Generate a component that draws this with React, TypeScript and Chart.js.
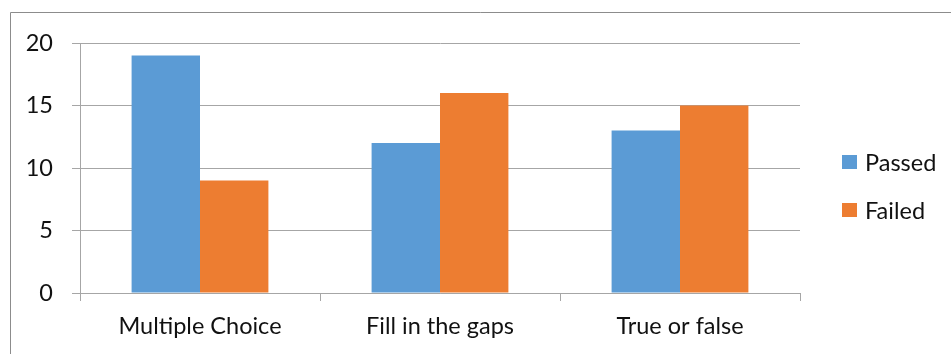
import React, { useEffect, useRef } from "react";
import { Chart, registerables } from "chart.js";

Chart.register(...registerables);

const categories = ["Multiple Choice", "Fill in the gaps", "True or false"];
const passedValues = [19, 12, 13];
const failedValues = [9, 16, 15];
const seriesNames = ["Passed", "Failed"];
const seriesColors = ["#5B9BD5", "#ED7D31"];
const yTicks = [0, 5, 10, 15, 20];

const FONT = "Lato, Carlito, 'Liberation Sans', sans-serif";
const FONT_SIZE = 23.5;
const GRID = "#A6A6A6";

const borderPlugin = {
  id: "outerBorder",
  beforeDraw(chart: any) {
    const ctx = chart.ctx;
    ctx.save();
    ctx.strokeStyle = "#8C8C8C";
    ctx.lineWidth = 1;
    ctx.beginPath();
    ctx.moveTo(10.5, chart.height);
    ctx.lineTo(10.5, 12.5);
    ctx.lineTo(chart.width, 12.5);
    ctx.stroke();
    ctx.restore();
  },
};

export default function App() {
  const canvasRef = useRef<HTMLCanvasElement | null>(null);

  useEffect(() => {
    if (!canvasRef.current) return;
    const chart = new Chart(canvasRef.current, {
      type: "bar",
      data: {
        labels: categories,
        datasets: [
          {
            label: seriesNames[0],
            data: passedValues,
            backgroundColor: seriesColors[0],
            categoryPercentage: 0.57,
            barPercentage: 1.0,
          },
          {
            label: seriesNames[1],
            data: failedValues,
            backgroundColor: seriesColors[1],
            categoryPercentage: 0.57,
            barPercentage: 1.0,
          },
        ],
      },
      options: {
        animation: false,
        responsive: false,
        maintainAspectRatio: false,
        layout: { padding: { top: 43, right: 151, bottom: 0, left: 0 } },
        plugins: {
          legend: { display: false },
          tooltip: { enabled: false },
        },
        scales: {
          x: {
            grid: {
              display: true,
              offset: true,
              drawOnChartArea: false,
              drawTicks: true,
              tickLength: 8,
              color: GRID,
            },
            border: { display: true, color: GRID, width: 1 },
            ticks: {
              color: "#111",
              padding: 11,
              font: { family: FONT, size: FONT_SIZE },
              maxRotation: 0,
            },
            afterFit: (scale: any) => {
              scale.height = 61;
            },
          },
          y: {
            min: 0,
            max: 20,
            afterBuildTicks: (scale: any) => {
              scale.ticks = yTicks.map((v) => ({ value: v }));
            },
            grid: {
              color: GRID,
              drawTicks: true,
              tickLength: 8,
            },
            border: { display: true, color: GRID, width: 1 },
            ticks: {
              color: "#111",
              padding: 19,
              font: { family: FONT, size: FONT_SIZE },
            },
            afterFit: (scale: any) => {
              scale.width = 80;
            },
          },
        },
      },
      plugins: [borderPlugin],
    });
    return () => chart.destroy();
  }, []);

  return (
    <div
      style={{
        position: "fixed",
        left: 0,
        top: 0,
        width: 951,
        height: 354,
        background: "#fff",
      }}
    >
      <canvas ref={canvasRef} width={951} height={354} style={{ display: "block" }} />
      {seriesNames.map((name, i) => (
        <div
          key={name}
          style={{
            position: "absolute",
            left: 842,
            top: 148 + i * 48,
            height: 28,
            display: "flex",
            alignItems: "center",
            fontFamily: FONT,
            fontSize: FONT_SIZE,
            color: "#111",
            whiteSpace: "nowrap",
          }}
        >
          <span
            style={{
              display: "inline-block",
              width: 15,
              height: 14,
              background: seriesColors[i],
              marginRight: 8,
            }}
          />
          <span>{name}</span>
        </div>
      ))}
    </div>
  );
}
